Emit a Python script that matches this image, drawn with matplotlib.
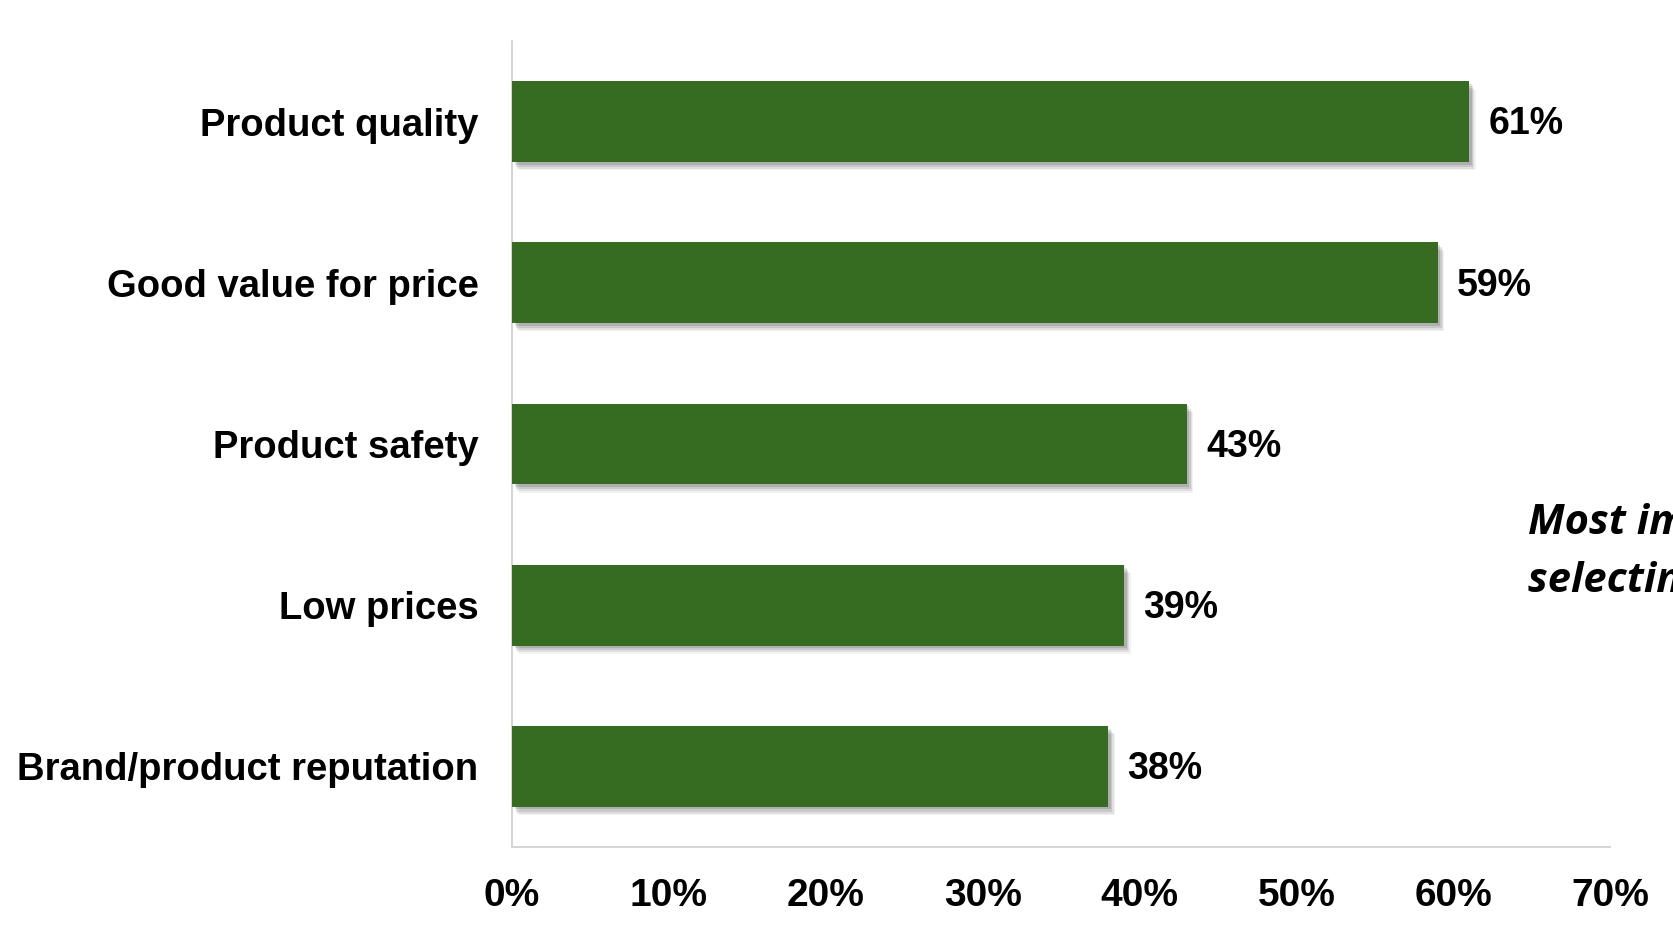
import matplotlib
matplotlib.use("Agg")
import matplotlib.pyplot as plt
import matplotlib.patheffects as pe

categories = ["Product quality", "Good value for price", "Product safety",
              "Low prices", "Brand/product reputation"]
values = [61, 59, 43, 39, 38]
xticks = [0, 10, 20, 30, 40, 50, 60, 70]
xtick_labels = [f"{t}%" for t in xticks]
side_note = ["Most important factors in", "selecting a product"]

BAR_COLOR = "#366C22"
AXIS_COLOR = "#d4d4d4"

fig = plt.figure(figsize=(16.73, 9.25), dpi=100)
ax = fig.add_axes([0.306, 0.0843, 0.6564, 0.8714])

n = len(categories)
ypos = list(range(n - 1, -1, -1))

# soft drop shadow built from a few stacked offset layers
shadow = [
    pe.SimplePatchShadow(offset=(5, -6), shadow_rgbFace="#000000", alpha=0.05),
    pe.SimplePatchShadow(offset=(4, -5), shadow_rgbFace="#000000", alpha=0.08),
    pe.SimplePatchShadow(offset=(3, -3.5), shadow_rgbFace="#000000", alpha=0.10),
    pe.SimplePatchShadow(offset=(2, -2), shadow_rgbFace="#000000", alpha=0.12),
    pe.Normal(),
]
bars = ax.barh(ypos, values, height=0.5, color=BAR_COLOR, zorder=3)
for b in bars:
    b.set_path_effects(shadow)

for y, v in zip(ypos, values):
    ax.annotate(f"{v}%", xy=(v, y), xytext=(14, -2), textcoords="offset points",
                va="center", ha="left", fontsize=27, fontweight="bold",
                family="Liberation Sans", color="black")

ax.set_xlim(0, 70)
ax.set_ylim(-0.5, n - 0.5)
ax.set_xticks(xticks)
ax.set_xticklabels(xtick_labels, fontsize=28, fontweight="bold", family="Liberation Sans")
ax.set_yticks(ypos)
ax.set_yticklabels(categories, fontsize=27.5, fontweight="bold", family="Liberation Sans")
ax.tick_params(axis="x", length=0, pad=22)
ax.tick_params(axis="y", length=0, pad=24)

for side in ("top", "right"):
    ax.spines[side].set_visible(False)
for side in ("left", "bottom"):
    ax.spines[side].set_color(AXIS_COLOR)
    ax.spines[side].set_linewidth(1.4)

for line, ypx in zip(side_note, (523, 582)):
    fig.text(1528 / 1673, 1 - ypx / 925, line, fontsize=30, fontstyle="italic",
             fontweight="bold", family="Open Sans", va="center", ha="left")

fig.savefig("out.png", dpi=100)
